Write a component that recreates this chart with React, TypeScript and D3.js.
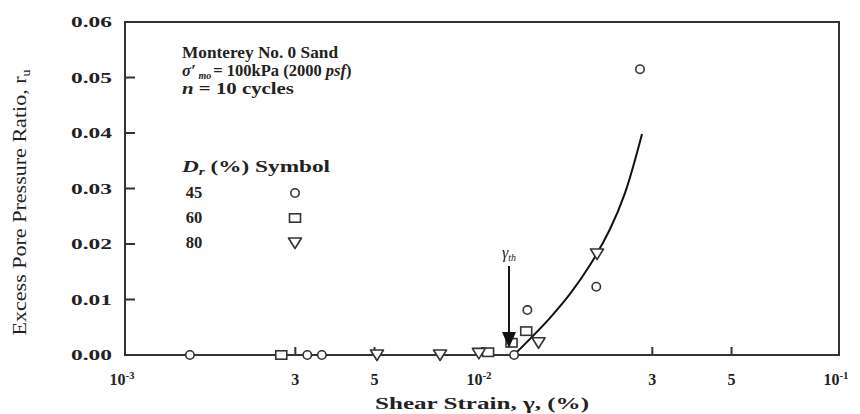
import React from "react";
import * as d3 from "d3";

// ---- data ----
const dr45Strain = [0.00152, 0.00324, 0.00356, 0.0123, 0.0134, 0.0209, 0.0277];
const dr45Ratio = [0, 0, 0, 0, 0.0081, 0.0123, 0.0515];
const dr60Strain = [0.00274, 0.0104, 0.0121, 0.0133];
const dr60Ratio = [0, 0.0005, 0.0022, 0.0043];
const dr80Strain = [0.00508, 0.00763, 0.0098, 0.0144, 0.021];
const dr80Ratio = [0, 0, 0.0003, 0.0022, 0.0182];
const curveStrain = [0.01229, 0.01363, 0.01551, 0.01764, 0.02007, 0.02284, 0.02516, 0.02807];
const curveRatio = [0, 0.0029, 0.0067, 0.011, 0.0162, 0.0227, 0.0292, 0.0398];
const thresholdStrain = 0.0119;

const yTickValues = [0, 0.01, 0.02, 0.03, 0.04, 0.05, 0.06];
const yTickLabels = ["0.00", "0.01", "0.02", "0.03", "0.04", "0.05", "0.06"];
const xTickValues = [0.001, 0.003, 0.005, 0.01, 0.03, 0.05, 0.1];
const xTickLabels = ["10", "3", "5", "10", "3", "5", "10"];
const xTickSups = ["-3", "", "", "-2", "", "", "-1"];
const legendDr = ["45", "60", "80"];
const legendSymbols = ["circle", "square", "triangle"];

const W = 860, H = 414;
const L = 125, R = 839, T = 22, B = 355;
const INK = "#222";
const FONT = "'Liberation Serif', 'Times New Roman', serif";

function Marker({ kind, x, y }: { kind: string; x: number; y: number }) {
  const sw = 1.6;
  if (kind === "circle")
    return <circle cx={x} cy={y} r={4.2} fill="white" stroke="#333" strokeWidth={sw} />;
  if (kind === "square")
    return <rect x={x - 5.5} y={y - 4.2} width={11} height={8.4} fill="white" stroke="#333" strokeWidth={sw} />;
  const p = `M${x - 6.5},${y - 5} L${x + 6.5},${y - 5} L${x},${y + 5.5} Z`;
  return <path d={p} fill="white" stroke="#333" strokeWidth={sw} strokeLinejoin="round" />;
}

export default function App() {
  const x = d3.scaleLog().domain([0.001, 0.1]).range([L, R]);
  const y = d3.scaleLinear().domain([0, 0.06]).range([B, T]);
  const line = d3
    .line<number>()
    .x((_, i) => x(curveStrain[i]))
    .y((d) => y(d))
    .curve(d3.curveCatmullRom.alpha(0.5));

  const series = [
    { kind: "circle", xs: dr45Strain, ys: dr45Ratio },
    { kind: "square", xs: dr60Strain, ys: dr60Ratio },
    { kind: "triangle", xs: dr80Strain, ys: dr80Ratio },
  ];

  const ax = x(thresholdStrain);

  return (
    <svg
      width={W}
      height={H}
      style={{ position: "absolute", left: 0, top: 0, background: "white" }}
      fontFamily={FONT}
    >
      {/* frame */}
      <rect x={L} y={T} width={R - L} height={B - T} fill="none" stroke="#333" strokeWidth={2} />

      {/* y ticks */}
      {yTickValues.map((v, i) => (
        <g key={"y" + i}>
          {i > 0 && i < yTickValues.length - 1 && (
            <line x1={L} x2={L + 10} y1={y(v)} y2={y(v)} stroke="#333" strokeWidth={2} />
          )}
          <text
            x={71}
            y={y(v) + 5}
            fontSize={15.5}
            fontWeight="bold"
            fill={INK}
            textLength={41}
            lengthAdjust="spacingAndGlyphs"
          >
            {yTickLabels[i]}
          </text>
        </g>
      ))}

      {/* x ticks */}
      {xTickValues.map((v, i) => (
        <g key={"x" + i}>
          {i > 0 && i < xTickValues.length - 1 && (
            <line x1={x(v)} x2={x(v)} y1={B} y2={B - 8} stroke="#333" strokeWidth={2} />
          )}
          <text x={x(v) + (xTickSups[i] ? -3 : 0)} y={385} textAnchor="middle" fontSize={16} fontWeight="bold" fill={INK}>
            {xTickLabels[i]}
            {xTickSups[i] && (
              <tspan dy={-6} fontSize={11}>
                {xTickSups[i]}
              </tspan>
            )}
          </text>
        </g>
      ))}

      {/* axis titles */}
      <text
        x={375}
        y={409}
        fontSize={16}
        fontWeight="bold"
        fill={INK}
        textLength={214}
        lengthAdjust="spacingAndGlyphs"
      >
        Shear Strain, γ, (%)
      </text>
      <text
        transform={`translate(26,${(T + B) / 2 + 14}) rotate(-90)`}
        textAnchor="middle"
        fontSize={19}
        fill={INK}
        textLength={266}
        lengthAdjust="spacingAndGlyphs"
      >
        Excess Pore Pressure Ratio, r<tspan dy={4} fontSize={12}>u</tspan>
      </text>

      {/* annotation block */}
      <g fontWeight="bold" fill={INK} fontSize={16.5}>
        <text x={182} y={58} textLength={156} lengthAdjust="spacingAndGlyphs">
          Monterey No. 0 Sand
        </text>
        <text x={182} y={76}>
          <tspan fontStyle="italic">σ′</tspan>
          <tspan fontStyle="italic" fontSize={10} dx={3} dy={3}>mo</tspan>
          <tspan dx={2} dy={-3}>= 100kPa (2000 </tspan>
          <tspan fontStyle="italic">psf</tspan>
          <tspan>)</tspan>
        </text>
        <text x={182} y={94} textLength={112} lengthAdjust="spacingAndGlyphs">
          <tspan fontStyle="italic">n</tspan> = 10 cycles
        </text>
        <text x={182} y={172} textLength={148} lengthAdjust="spacingAndGlyphs">
          <tspan fontStyle="italic">D</tspan>
          <tspan fontStyle="italic" fontSize={11} dy={3}>r</tspan>
          <tspan dy={-3}> (%)  Symbol</tspan>
        </text>
        {legendDr.map((d, i) => (
          <text key={d} x={194} y={198 + i * 25} textAnchor="middle">
            {d}
          </text>
        ))}
      </g>
      {legendSymbols.map((k, i) => (
        <Marker key={k} kind={k} x={295} y={193 + i * 25} />
      ))}

      {/* fitted curve */}
      <path d={line(curveRatio) || ""} fill="none" stroke="#111" strokeWidth={2} />

      {/* data */}
      {series.map((s) =>
        s.xs.map((v, i) => <Marker key={s.kind + i} kind={s.kind} x={x(v)} y={y(s.ys[i])} />)
      )}

      {/* threshold arrow */}
      <text x={ax} y={258} textAnchor="middle" fontSize={16} fontStyle="italic" fill={INK}>
        γ<tspan fontSize={10} dy={3}>th</tspan>
      </text>
      <line x1={ax} x2={ax} y1={266} y2={334} stroke="#111" strokeWidth={2} />
      <path d={`M${ax - 7},${332} L${ax + 7},${332} L${ax},${348} Z`} fill="#111" />
    </svg>
  );
}
